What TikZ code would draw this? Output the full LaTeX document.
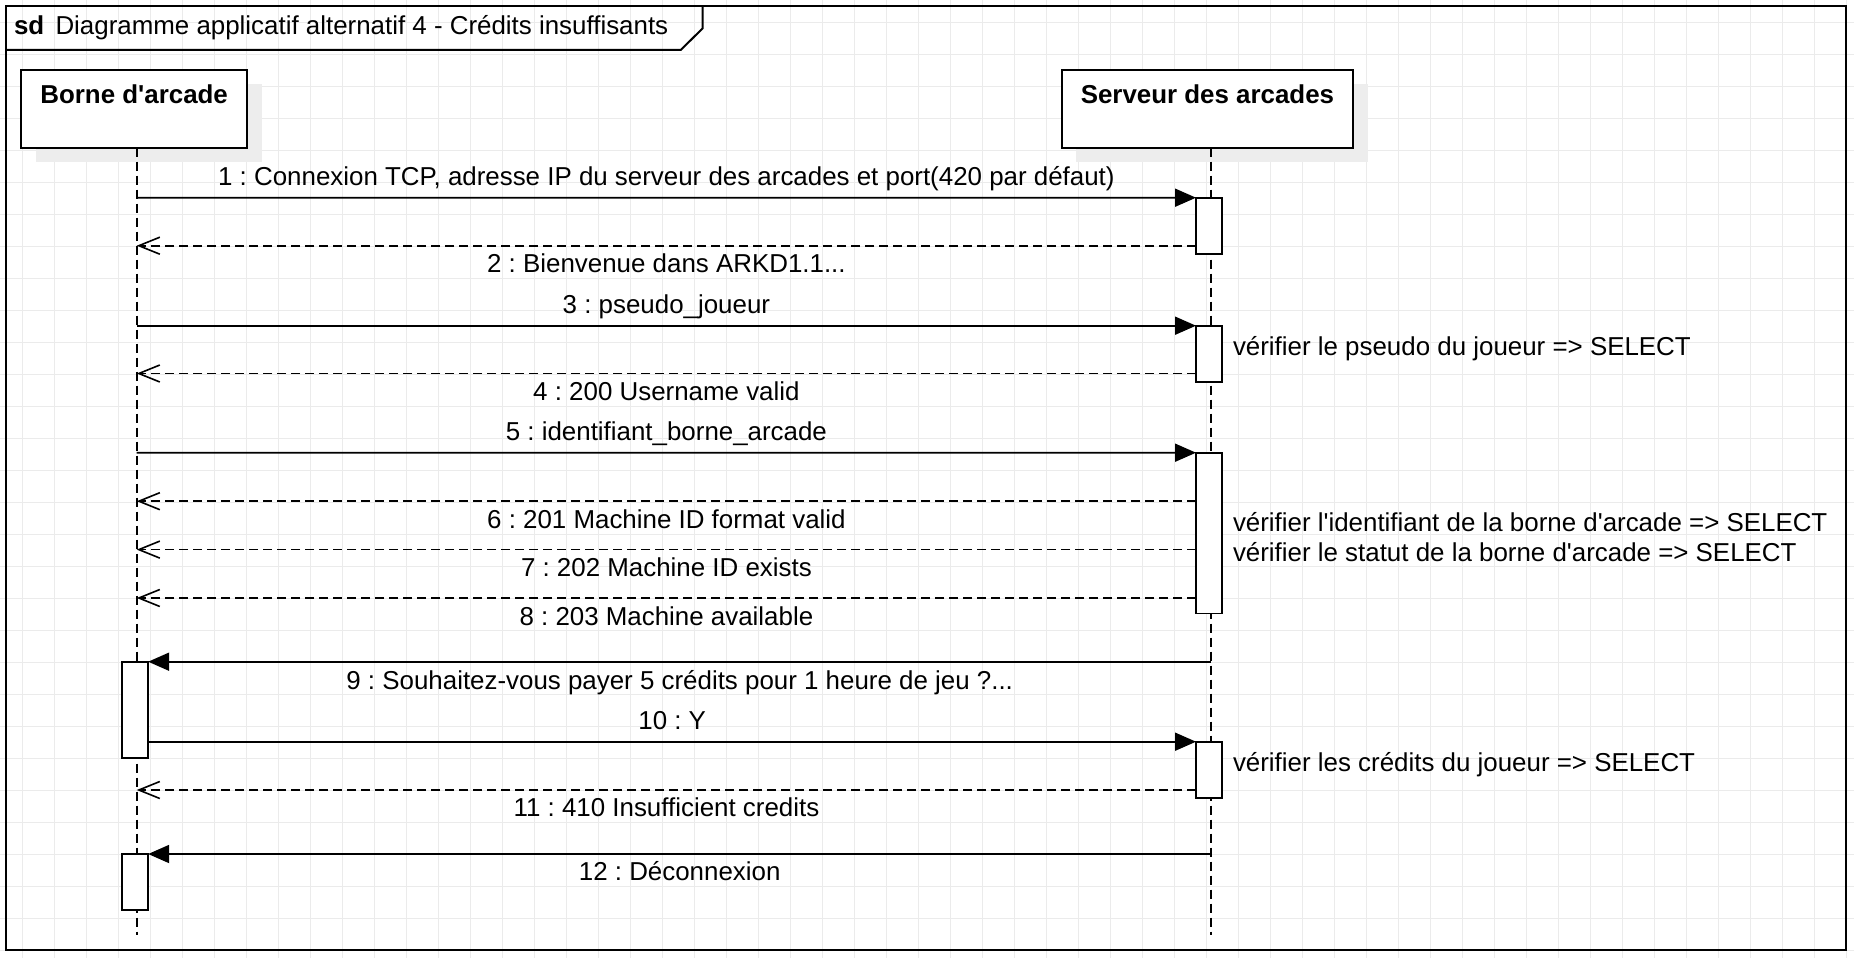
\documentclass[tikz,border=0pt]{standalone}
\usepackage{fontspec}
\newfontfamily\lib{Liberation Sans}
\usetikzlibrary{arrows.meta}
\frenchspacing
\begin{document}
\begin{tikzpicture}[x=1pt,y=-1pt,
  txt/.style={font=\lib\fontsize{25.9}{31}\selectfont, inner sep=0pt, outer sep=0pt},
  frm/.style={draw=black, line width=2pt},
  shad/.style={fill=black!7, draw=none},
  headbox/.style={draw=black, fill=white, line width=2pt, inner sep=0pt, outer sep=0pt},
  life/.style={draw=black, line width=1.7pt, dash pattern=on 9pt off 5pt},
  actbar/.style={draw=black, fill=white, line width=1.8pt, inner sep=0pt, outer sep=0pt, minimum width=26.3pt},
  call/.style={draw=black, line width=1.8pt, -{Triangle[length=21pt,width=18pt]}},
  ret/.style={draw=black, line width=1.7pt, dash pattern=on 9pt off 5pt, -{Straight Barb[length=21pt,width=17pt,line width=1.6pt]}}
]
\useasboundingbox (0,0) rectangle (1854,958);
% grid
\begin{scope}
\clip (0,0) rectangle (1854,958);
\foreach \i in {0,...,57} \draw[black!8, line width=1pt] (22.3+32*\i,0) -- (22.3+32*\i,958);
\foreach \j in {0,...,29} \draw[black!8, line width=1pt] (0,22.3+32*\j) -- (1854,22.3+32*\j);
\end{scope}
% frame
\draw[frm] (6,6) rectangle (1846,950);
\draw[frm] (6,50) -- (680.7,50) -- (702.7,28.3) -- (702.7,6);
\node[txt, anchor=base west, font=\lib\bfseries\fontsize{25.9}{31}\selectfont] (sd) at (14,35) {sd};
\node[txt, anchor=base west] (title) at (55.5,35) {Diagramme applicatif alternatif 4 - Crédits insuffisants};
% shadows
\fill[shad] (35.8,84.2) rectangle (261.5,162.2);
\fill[shad] (1076,84.2) rectangle (1367.9,162.2);
% lifeline heads
\node[headbox, minimum width=225.7pt, minimum height=78pt] (borne) at (134.15,108.7) {};
\node[headbox, minimum width=291.9pt, minimum height=78pt] (serveur) at (1207.45,108.7) {};
\node[txt, anchor=base, font=\lib\bfseries\fontsize{25.9}{31}\selectfont] (borneT) at (134.15,103) {Borne d'arcade};
\node[txt, anchor=base, font=\lib\bfseries\fontsize{25.9}{31}\selectfont] (serveurT) at (1207.45,103) {Serveur des arcades};
% lifelines
\coordinate (aEnd) at (136.7,935);
\coordinate (sEnd) at (1211,935);
\draw[life] (borne.south -| aEnd) -- (aEnd);
\draw[life] (serveur.south -| sEnd) -- (sEnd);
% activation bars
\node[actbar, minimum height=56.3pt] (s1) at (1209.15,225.85) {};
\node[actbar, minimum height=56.1pt] (s2) at (1209.15,353.75) {};
\node[actbar, minimum height=160.8pt] (s3) at (1209.15,533.1) {};
\node[actbar, minimum height=56.3pt] (s4) at (1209.15,769.85) {};
\node[actbar, minimum height=96pt] (b1) at (135,709.7) {};
\node[actbar, minimum height=56pt] (b2) at (135,882) {};
% message coordinates
\coordinate (a1) at (136.7,197.7);
\coordinate (a2) at (136.7,245.7);
\coordinate (a3) at (136.7,325.7);
\coordinate (a4) at (136.7,373.5);
\coordinate (a5) at (136.7,452.7);
\coordinate (a6) at (136.7,501.2);
\coordinate (a7) at (136.7,549.6);
\coordinate (a8) at (136.7,598);
\coordinate (a11) at (136.7,790);
\coordinate (v9) at (1211,661.7);
\coordinate (v12) at (1211,854);
% messages
\draw[call] (a1) -- (s1.north west);
\draw[ret] (s1.west |- a2) -- (a2);
\draw[call] (a3) -- (s2.north west);
\draw[ret] (s2.west |- a4) -- (a4);
\draw[call] (a5) -- (s3.north west);
\draw[ret] (s3.west |- a6) -- (a6);
\draw[ret] (s3.west |- a7) -- (a7);
\draw[ret] (s3.west |- a8) -- (a8);
\draw[call] (v9) -- (b1.north east);
\draw[call] (b1.east |- s4.north west) -- (s4.north west);
\draw[ret] (s4.west |- a11) -- (a11);
\draw[call] (v12) -- (b2.north east);
% message labels
\node[txt, anchor=base] (l1) at (666.4,185) {1 : Connexion TCP, adresse IP du serveur des arcades et port(420 par défaut)};
\node[txt, anchor=base] (l2) at (666.4,272.5) {2 : Bienvenue dans ARKD1.1...};
\node[txt, anchor=base] (l3) at (666.4,313) {3 : pseudo\_joueur};
\node[txt, anchor=base] (l4) at (666.4,400) {4 : 200 Username valid};
\node[txt, anchor=base] (l5) at (666.4,440) {5 : identifiant\_borne\_arcade};
\node[txt, anchor=base] (l6) at (666.4,528) {6 : 201 Machine ID format valid};
\node[txt, anchor=base] (l7) at (666.4,576.5) {7 : 202 Machine ID exists};
\node[txt, anchor=base] (l8) at (666.4,625) {8 : 203 Machine available};
\node[txt, anchor=base] (l9) at (679.7,689) {9 : Souhaitez-vous payer 5 crédits pour 1 heure de jeu ?...};
\node[txt, anchor=base] (l10) at (672.2,729) {10 : Y};
\node[txt, anchor=base] (l11) at (666.4,816.5) {11 : 410 Insufficient credits};
\node[txt, anchor=base] (l12) at (679.7,880.5) {12 : Déconnexion};
% notes
\node[txt, anchor=base west] (n1) at (1233,355.5) {vérifier le pseudo du joueur => SELECT};
\node[txt, anchor=base west] (n2) at (1233,531.7) {vérifier l'identifiant de la borne d'arcade => SELECT};
\node[txt, anchor=base west] (n3) at (1233,561.7) {vérifier le statut de la borne d'arcade => SELECT};
\node[txt, anchor=base west] (n4) at (1233,771.5) {vérifier les crédits du joueur => SELECT};
\end{tikzpicture}
\end{document}
